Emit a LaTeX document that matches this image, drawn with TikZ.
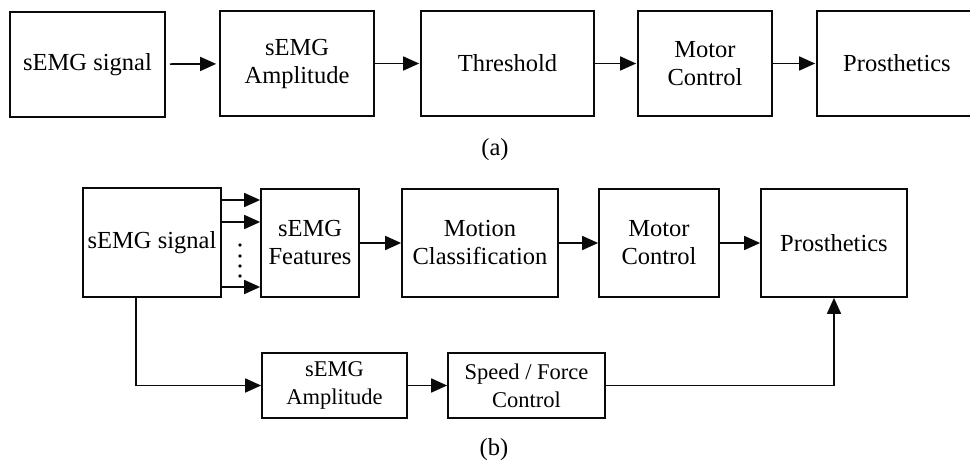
\documentclass[tikz,border=0pt]{standalone}
\usepackage{fontspec}
\setmainfont{Liberation Serif}
\usepackage{tikz}
\usetikzlibrary{arrows.meta, positioning, calc}
\definecolor{mydark}{RGB}{10,10,10}
\tikzset{
  line/.style={draw=mydark, line width=1.7pt},
  arrow/.style={draw=mydark, line width=1.7pt, -{Triangle[length=16pt, width=14pt]}},
  block/.style={draw=mydark, line width=1.7pt, rectangle, align=center, inner sep=0pt, font=\fontsize{24.5}{28}\selectfont},
  sblock/.style={block, font=\fontsize{22.5}{28}\selectfont},
  caption/.style={font=\fontsize{24.5}{28}\selectfont}
}
\begin{document}
\begin{tikzpicture}[x=1pt, y=-1pt]
  \useasboundingbox (0,0) rectangle (970,463);

  % (a) amplitude threshold chain
  \node [block, minimum width=155pt, minimum height=105pt] (sig) at (87.5,64.5) {sEMG signal};
  \node [block, minimum width=154pt, minimum height=105pt] (amp) at (297,63.5) {sEMG\\Amplitude};
  \node [block, minimum width=173pt, minimum height=105pt] (thr) at (507.5,63.5) {Threshold};
  \node [block, minimum width=134pt, minimum height=105pt] (mot) at (705,63.5) {Motor\\Control};
  \node [block, minimum width=160pt, minimum height=105pt] (pro) at (897,63.5) {Prosthetics};
  \node [caption] (capa) at (495,150) {(a)};

  \draw [arrow, shorten <=4pt, shorten >=3pt] (sig) -- (amp);
  \draw [arrow, shorten >=1pt] (amp) -- (thr);
  \draw [arrow, shorten >=1pt] (thr) -- (mot);
  \draw [arrow, shorten >=1pt] (mot) -- (pro);

  % (b) classification chain with proportional control
  \node [block, minimum width=138pt, minimum height=109pt] (sig2) at (152,242.5) {sEMG signal};
  \node [block, minimum width=98pt, minimum height=108pt] (feat) at (310,243) {sEMG\\Features};
  \node [block, minimum width=156pt, minimum height=108pt] (cls) at (480,243) {Motion\\Classification};
  \node [block, minimum width=120pt, minimum height=108pt] (mot2) at (659,243) {Motor\\Control};
  \node [block, minimum width=146pt, minimum height=108pt] (pro2) at (834,243) {Prosthetics};
  \node [sblock, minimum width=145pt, minimum height=65pt] (amp2) at (334.5,385.5) {sEMG\\Amplitude};
  \node [sblock, minimum width=157pt, minimum height=65pt] (spd) at (526.5,385.5) {Speed / Force\\Control};
  \node [caption] (capb) at (494,450) {(b)};

  \coordinate (down) at ($(sig2.south)+(-16,0)$);

  \foreach \y in {200,222,287}
    \draw [arrow] (sig2.east |- 0,\y) -- (feat.west |- 0,\y);
  \foreach \y in {245,256,266,276}
    \fill [mydark] (240,\y) circle (1.8pt);

  \draw [arrow] (feat) -- (cls);
  \draw [arrow] (cls) -- (mot2);
  \draw [arrow] (mot2) -- (pro2);
  \draw [arrow] (down) |- (amp2.west);
  \draw [arrow] (amp2) -- (spd);
  \draw [arrow] (spd.east) -| (pro2.south);
\end{tikzpicture}
\end{document}
